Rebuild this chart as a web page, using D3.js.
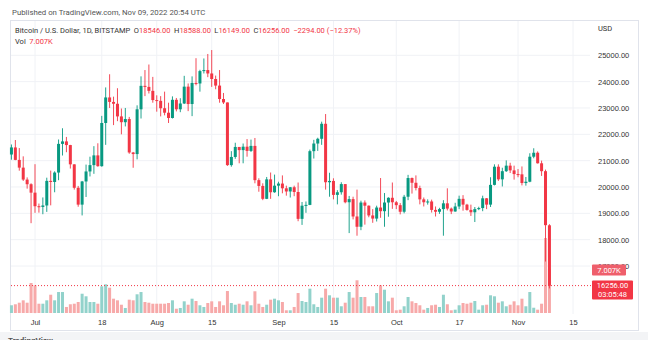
<!DOCTYPE html>
<html>
<head>
<meta charset="utf-8">
<script src="https://cdn.jsdelivr.net/npm/d3@7"></script>
<style>
  body { margin: 0; background: #fff; }
  svg { display: block; font-family: Roboto, "Open Sans", sans-serif; }
</style>
</head>
<body>
<svg id="chart" width="648" height="340"></svg>
<script>
// BTC/USD daily, Bitstamp, Jun 25 -> Nov 9 2022
const firstDay = Date.UTC(2022, 5, 25);
const lastDay = Date.UTC(2022, 10, 9);

const opens = [
  21233, 21502, 21028, 20735, 20281, 20105,
  19785, 19270, 19243, 19298, 20232, 20190, 20548, 21637, 21731, 21592, 20860, 19970, 19330, 20210, 20590, 20830,
  21200, 20790, 22430, 23400, 23230, 23160, 22680, 22460, 22580, 21310, 21250, 22950, 23840, 23800, 23650,
  23300, 23270, 22990, 22820, 22620, 23310, 22950, 23170, 23810, 23150, 23950, 23930, 24400, 24440, 24310, 24100,
  23850, 23340, 23210, 20830, 21140, 21520, 21400, 21530, 21370, 21560, 20260, 20040, 19550, 20290, 19800,
  20050, 20130, 19950, 19830, 19990, 19810, 18790, 19290, 19320, 21360, 21650, 21830, 22400, 20180, 20230,
  19700, 19800, 20110, 19420, 19540, 18880, 18490, 19410, 19290, 18920, 18800, 19220, 19080, 19410, 19590,
  19420, 19310, 19060, 19630, 20340, 20160, 19960, 19530, 19420, 19450, 19130, 19060, 19160, 19380, 19180, 19070,
  19260, 19550, 19330, 19130, 19040, 19160, 19200, 19570, 19330, 20080, 20770, 20290, 20600, 20810, 20630,
  20490, 20480, 20150, 20200, 21150, 21300, 20900, 20600, 18546
];
const highs = [
  21614, 21783, 21479, 21164, 20364, 20141,
  20865, 19371, 19603, 20353, 20622, 20595, 21803, 22230, 21900, 21600, 20860, 20040, 20230, 20850, 21150, 21550,
  21660, 22700, 23780, 24280, 23430, 23750, 22980, 23000, 22660, 21330, 23100, 24200, 24440, 24650, 24180,
  23480, 23450, 23620, 23200, 23440, 23380, 23370, 24220, 23930, 24200, 24890, 24450, 24880, 25050, 25200, 24230,
  24440, 23570, 23210, 21360, 21680, 21520, 21650, 21820, 21800, 21860, 20330, 20140, 20380, 20550, 20470,
  20200, 20440, 20050, 20000, 20050, 20170, 19430, 19450, 21420, 21790, 21870, 22480, 22770, 20540, 20330,
  19880, 20180, 20110, 19660, 19630, 19900, 19480, 19490, 19300, 19160, 19290, 20340, 19770, 19610, 20170,
  19470, 19390, 19700, 20460, 20360, 20440, 20050, 19600, 19530, 19520, 19260, 19210, 19500, 19950, 19220, 19400,
  19670, 19690, 19360, 19330, 19240, 19250, 19670, 19580, 20370, 20860, 20860, 20730, 21010, 20920, 20810,
  20680, 20780, 20380, 21280, 21470, 21350, 21000, 20660, 18588
];
const lows = [
  21035, 21017, 20620, 20229, 19937, 18626,
  19020, 19026, 18966, 19055, 19303, 19800, 20258, 21195, 21320, 20700, 19900, 19250, 18920, 19620, 20400, 20500,
  20770, 20770, 21600, 23000, 22350, 22500, 22000, 22300, 21260, 20730, 21050, 22600, 23450, 23550, 23200,
  22860, 22680, 22720, 22430, 22600, 22870, 22840, 23150, 22880, 22690, 23860, 23620, 24310, 24170, 23800, 23710,
  23200, 23150, 20800, 20770, 21070, 20900, 20900, 21150, 21330, 20140, 19820, 19500, 19540, 19550, 19780,
  19650, 19760, 19670, 19600, 19650, 18700, 18560, 19020, 19310, 21080, 21370, 21600, 19900, 19630, 19530,
  19340, 19710, 19380, 18250, 18770, 18150, 18360, 18570, 18850, 18640, 18690, 18830, 18490, 18870, 19170,
  19160, 18960, 19000, 19500, 19750, 19870, 19340, 19260, 19330, 19030, 18880, 18980, 18150, 19110, 18970, 19060,
  19160, 19100, 19100, 18900, 18670, 19120, 19080, 19160, 19240, 20060, 20230, 20020, 20570, 20530, 20280,
  20370, 20060, 20050, 20180, 21090, 20890, 20420, 17170, 16149
];
const closes = [
  21502, 21028, 20735, 20281, 20105, 19785,
  19270, 19243, 19298, 20232, 20190, 20548, 21637, 21731, 21592, 20860, 19970, 19330, 20210, 20590, 20830, 21200,
  20790, 22430, 23400, 23230, 23160, 22680, 22460, 22580, 21310, 21250, 22950, 23840, 23800, 23650, 23300,
  23270, 22990, 22820, 22620, 23310, 22950, 23170, 23810, 23150, 23950, 23930, 24400, 24440, 24310, 24100, 23850,
  23340, 23210, 20830, 21140, 21520, 21400, 21530, 21370, 21560, 20260, 20040, 19550, 20290, 19800, 20050,
  20130, 19950, 19830, 19990, 19810, 18790, 19290, 19320, 21360, 21650, 21830, 22400, 20180, 20230, 19700,
  19800, 20110, 19420, 19540, 18880, 18490, 19410, 19290, 18920, 18800, 19220, 19080, 19410, 19590, 19420,
  19310, 19060, 19630, 20340, 20160, 19960, 19530, 19420, 19450, 19130, 19060, 19160, 19380, 19180, 19070, 19260,
  19550, 19330, 19130, 19040, 19160, 19200, 19570, 19330, 20080, 20770, 20290, 20600, 20810, 20630, 20490,
  20480, 20150, 20200, 21150, 21300, 20900, 20600, 18550, 16256
];
// volume in thousands of BTC
const volumes = [
  1.23, 1.39, 1.64, 2.02, 1.64, 4.78,
  4.41, 1.48, 1.48, 2.02, 2.91, 2.02, 3.34, 3.34, 0.96, 1.39, 1.48, 1.75, 3.07, 2.66, 1.75, 1.75,
  1.48, 4.25, 4.57, 4.03, 2.28, 2.02, 1.32, 0.80, 2.12, 2.02, 2.98, 3.34, 1.75, 1.64, 1.48,
  1.48, 1.48, 1.48, 1.59, 2.02, 0.68, 0.80, 1.86, 1.32, 2.28, 1.91, 1.23, 0.96, 1.59, 1.86, 0.96,
  1.86, 1.23, 3.50, 1.59, 1.32, 1.48, 1.32, 1.86, 1.23, 3.46, 1.48, 0.96, 1.32, 2.12, 2.28,
  2.02, 1.75, 0.43, 0.43, 0.96, 3.18, 1.91, 1.75, 3.87, 1.39, 0.96, 2.44, 3.87, 2.82, 2.44,
  2.44, 1.07, 1.64, 3.34, 2.44, 5.21, 2.55, 2.55, 1.07, 1.07, 3.18, 4.41, 3.71, 1.86, 2.44,
  0.43, 0.53, 1.07, 2.55, 1.86, 1.59, 1.23, 0.53, 0.80, 1.23, 1.32, 0.96, 2.91, 1.39, 0.43, 0.53,
  1.23, 1.59, 1.48, 1.64, 1.91, 0.53, 1.23, 1.32, 2.82, 2.66, 1.64, 1.86, 1.07, 1.32, 1.86,
  1.23, 2.28, 1.07, 3.34, 0.84, 0.53, 1.48, 11.94, 7.007
];

const priceTicks = [25000, 24000, 23000, 22000, 21000, 20000, 19000, 18000, 17000];
const timeTicks = [
  Date.UTC(2022, 6, 1), Date.UTC(2022, 6, 18), Date.UTC(2022, 7, 1), Date.UTC(2022, 7, 15),
  Date.UTC(2022, 8, 1), Date.UTC(2022, 8, 15), Date.UTC(2022, 9, 1), Date.UTC(2022, 9, 17),
  Date.UTC(2022, 10, 1), Date.UTC(2022, 10, 15)
];
const timeLabels = ["Jul", "18", "Aug", "15", "Sep", "15", "Oct", "17", "Nov", "15"];

const days = d3.utcDay.range(firstDay, lastDay + 1);
const data = days.map((d, i) => ({
  date: d, o: opens[i], h: highs[i], l: lows[i], c: closes[i], v: volumes[i],
}));
const last = data[data.length - 1];
const prev = data[data.length - 2];

const upColor = "#089981";
const downColor = "#f23645";
const upVol = "#92d2cb";
const downVol = "#f7a9a9";
const textColor = "#333";
const fontSize = 7.5;

const svg = d3.select("#chart");

const x = d3.scaleUtc()
  .domain([new Date(timeTicks[0]), new Date(timeTicks[timeTicks.length - 1])])
  .range([35, 573]);
const y = d3.scaleLinear().domain([17000, 25000]).range([266, 55.3]);
const yVol = d3.scaleLinear().domain([0, last.v]).range([313, 269]);

const plotLeft = 11, plotRight = 590, plotTop = 21, plotBottom = 314;
const bodyW = 3;

// header
svg.append("text")
  .attr("x", 12).attr("y", 15)
  .attr("font-size", 7.8).attr("fill", "#555")
  .text("Published on TradingView.com, Nov 09, 2022 20:54 UTC");

// frame
svg.append("rect")
  .attr("x", 10.5).attr("y", 20.5)
  .attr("width", 628).attr("height", 310)
  .attr("fill", "#fff").attr("stroke", "#e0e3eb");
svg.append("rect")
  .attr("x", 0).attr("y", 332).attr("width", 648).attr("height", 8)
  .attr("fill", "#f3f4f6");
svg.append("text")
  .attr("x", 8).attr("y", 343)
  .attr("font-size", 8).attr("font-weight", "bold").attr("fill", "#555")
  .text("TradingView");

// grid
svg.append("g")
  .attr("stroke", "#f0f2f6")
  .selectAll("line")
  .data(priceTicks)
  .enter()
  .append("line")
  .attr("x1", plotLeft).attr("x2", plotRight)
  .attr("y1", (d) => y(d)).attr("y2", (d) => y(d));
svg.append("g")
  .attr("stroke", "#f0f2f6")
  .selectAll("line")
  .data(timeTicks)
  .enter()
  .append("line")
  .attr("x1", (d) => x(new Date(d))).attr("x2", (d) => x(new Date(d)))
  .attr("y1", plotTop).attr("y2", plotBottom);

// legend
const legend = svg.append("text")
  .attr("x", 15).attr("y", 33)
  .attr("font-size", fontSize);
const change = last.c - prev.c;
const legendParts = [
  [0, "Bitcoin / U.S. Dollar, 1D, BITSTAMP", textColor],
  [3.5, "O", textColor], [0, last.o.toFixed(2), downColor],
  [3.5, "H", textColor], [0, last.h.toFixed(2), downColor],
  [3.5, "L", textColor], [0, last.l.toFixed(2), downColor],
  [3.5, "C", textColor], [0, last.c.toFixed(2), downColor],
  [3.5, "\u2212" + Math.abs(change).toFixed(2), downColor],
  [2, "(\u2212" + Math.abs(change / prev.c * 100).toFixed(2) + "%)", downColor],
];
legendParts.forEach(([gap, t, col]) => {
  legend.append("tspan").attr("dx", gap).attr("fill", col).text(t);
});

const volLegend = svg.append("text")
  .attr("x", 15).attr("y", 44)
  .attr("font-size", fontSize);
volLegend.append("tspan").attr("fill", textColor).text("Vol");
volLegend.append("tspan").attr("dx", 3.5).attr("fill", downColor).text(last.v.toFixed(3) + "K");

// volume
svg.append("g")
  .selectAll("rect")
  .data(data)
  .enter()
  .append("rect")
  .attr("x", (d) => x(d.date) - bodyW / 2)
  .attr("width", bodyW)
  .attr("y", (d) => yVol(d.v))
  .attr("height", (d) => yVol(0) - yVol(d.v))
  .attr("fill", (d) => (d.c >= d.o ? upVol : downVol));

// last price line
svg.append("line")
  .attr("x1", plotLeft).attr("x2", 592)
  .attr("y1", y(last.c)).attr("y2", y(last.c))
  .attr("stroke", downColor).attr("stroke-width", 1)
  .attr("stroke-dasharray", "1,2");

// candles
const candle = svg.append("g")
  .selectAll("g")
  .data(data)
  .enter()
  .append("g")
  .attr("fill", (d) => (d.c >= d.o ? upColor : downColor))
  .attr("stroke", (d) => (d.c >= d.o ? upColor : downColor));

candle.append("line")
  .attr("x1", (d) => x(d.date)).attr("x2", (d) => x(d.date))
  .attr("y1", (d) => y(d.h)).attr("y2", (d) => y(d.l))
  .attr("stroke-width", 0.9);

candle.append("rect")
  .attr("stroke", "none")
  .attr("x", (d) => x(d.date) - bodyW / 2)
  .attr("width", bodyW)
  .attr("y", (d) => y(Math.max(d.o, d.c)))
  .attr("height", (d) => Math.max(1, Math.abs(y(d.o) - y(d.c))));

// price axis
const yAxis = svg.append("g")
  .attr("transform", "translate(598,0)")
  .call(d3.axisRight(y).tickValues(priceTicks).tickFormat(d3.format(".2f")).tickSize(0).tickPadding(0));
yAxis.select(".domain").remove();
yAxis.selectAll("text")
  .attr("font-size", fontSize).attr("font-family", null)
  .attr("fill", textColor);

svg.append("text")
  .attr("x", 598).attr("y", 30.5)
  .attr("font-size", fontSize).attr("fill", textColor)
  .text("USD");

// time axis
const xAxis = svg.append("g")
  .attr("transform", "translate(0,317)")
  .call(d3.axisBottom(x)
    .tickValues(timeTicks.map((d) => new Date(d)))
    .tickFormat((d, i) => timeLabels[i])
    .tickSize(0).tickPadding(3));
xAxis.select(".domain").remove();
xAxis.selectAll("text")
  .attr("font-size", fontSize).attr("font-family", null)
  .attr("fill", textColor);

// value labels on the price scale
svg.append("rect")
  .attr("x", 592).attr("y", yVol(last.v) - 4.5)
  .attr("width", 34).attr("height", 11).attr("rx", 1)
  .attr("fill", "#ef5f6c");
svg.append("text")
  .attr("x", 609).attr("y", yVol(last.v) + 3.6)
  .attr("text-anchor", "middle")
  .attr("font-size", fontSize).attr("fill", "#fff")
  .text(last.v.toFixed(3) + "K");

svg.append("rect")
  .attr("x", 592).attr("y", y(last.c) - 5)
  .attr("width", 41).attr("height", 19).attr("rx", 1)
  .attr("fill", downColor);
svg.append("text")
  .attr("x", 612.5).attr("y", y(last.c) + 2.6)
  .attr("text-anchor", "middle")
  .attr("font-size", fontSize).attr("fill", "#fff")
  .text(last.c.toFixed(2));
svg.append("text")
  .attr("x", 612.5).attr("y", y(last.c) + 11)
  .attr("text-anchor", "middle")
  .attr("font-size", fontSize).attr("fill", "#fff")
  .text("03:05:48");
</script>
</body>
</html>
